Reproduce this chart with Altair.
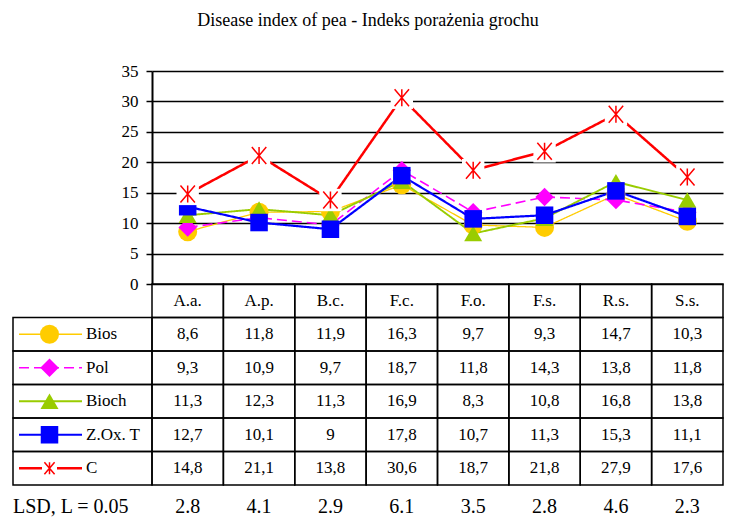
import altair as alt
import pandas as pd

# ---------------- data ----------------
title_text = "Disease index of pea - Indeks porażenia grochu"
categories = ["A.a.", "A.p.", "B.c.", "F.c.", "F.o.", "F.s.", "R.s.", "S.s."]
series_names = ["Bios", "Pol", "Bioch", "Z.Ox. T", "C"]
bios = [8.6, 11.8, 11.9, 16.3, 9.7, 9.3, 14.7, 10.3]
pol = [9.3, 10.9, 9.7, 18.7, 11.8, 14.3, 13.8, 11.8]
bioch = [11.3, 12.3, 11.3, 16.9, 8.3, 10.8, 16.8, 13.8]
zox = [12.7, 10.1, 9.0, 17.8, 10.7, 11.3, 15.3, 11.1]
control = [14.8, 21.1, 13.8, 30.6, 18.7, 21.8, 27.9, 17.6]
lsd = [2.8, 4.1, 2.9, 6.1, 3.5, 2.8, 4.6, 2.3]
lsd_label = "LSD, L = 0.05"
y_ticks = [0, 5, 10, 15, 20, 25, 30, 35]

# ---------------- styles ----------------
colors = ["#FFCC00", "#FF00FF", "#99CC00", "#0000FF", "#FF0000"]
STAR = "M-0.85,-1L0.85,1M-0.85,1L0.85,-1M0,-1L0,1"
shapes = ["circle", "diamond", "triangle-up", "square", STAR]
dashes = [[1, 0], [10, 5], [1, 0], [1, 0], [1, 0]]
widths = [1.3, 2.5, 1.3, 1.3, 1.3]
plot_sizes = [361, 289, 300, 256, 289]
legend_sizes = [144, 144, 150, 144, 144]
FONT = "Liberation Serif"

all_values = [bios, pol, bioch, zox, control]
rows = ["header"] + series_names + ["LSD"]

W = 571
PH = 213
ROW = 33.5
TH = ROW * len(rows)
LW = 139


def fmt_comma(v):
    return f"{v:g}".replace(".", ",")


long_recs = []
for s, vals in zip(series_names, all_values):
    for c, v in zip(categories, vals):
        long_recs.append({"series": s, "cat": c, "value": v, "row": s, "label": fmt_comma(v)})
df = pd.DataFrame(long_recs)

color_enc = alt.Color("series:N", scale=alt.Scale(domain=series_names, range=colors), legend=None)
dash_enc = alt.StrokeDash("series:N", scale=alt.Scale(domain=series_names, range=dashes), legend=None)
width_enc = alt.StrokeWidth("series:N", scale=alt.Scale(domain=series_names, range=widths), legend=None)
shape_enc = alt.Shape("series:N", scale=alt.Scale(domain=series_names, range=shapes), legend=None)

# ---------------- line plot ----------------
xp = alt.X("cat:N", sort=categories, scale=alt.Scale(type="point", padding=0.5), axis=None)
yp = alt.Y(
    "value:Q",
    scale=alt.Scale(domain=[0, 35], nice=False),
    axis=alt.Axis(
        values=y_ticks, grid=True, gridColor="black", gridWidth=1.5, gridOpacity=1,
        domainColor="black", domainWidth=2, tickColor="black", tickWidth=1.5, tickSize=6,
        labelFont=FONT, labelFontSize=17, labelColor="black", labelPadding=8, title=None,
    ),
)

base = alt.Chart(df)
lines = base.mark_line().encode(x=xp, y=yp, color=color_enc, strokeDash=dash_enc, strokeWidth=width_enc)
pts = base.transform_filter(alt.datum.series != "C").mark_point(filled=True, opacity=1).encode(
    x=xp, y=yp, color=color_enc, shape=shape_enc,
    size=alt.Size("series:N", scale=alt.Scale(domain=series_names, range=plot_sizes), legend=None),
)
c_box = base.transform_filter(alt.datum.series == "C").mark_point(
    shape="square", filled=True, color="white", opacity=1, size=500
).encode(x=xp, y=yp)
c_star = base.transform_filter(alt.datum.series == "C").mark_point(
    shape=STAR, filled=False, color="#FF0000", strokeWidth=1.5, opacity=1, size=289
).encode(x=xp, y=yp)

plot = alt.layer(lines, pts, c_box, c_star).properties(width=W, height=PH)

spacer = alt.Chart(pd.DataFrame({"v": [0]})).mark_point(opacity=0).properties(width=LW, height=PH)

# ---------------- data table ----------------
xt = alt.X("cat:N", sort=categories, scale=alt.Scale(type="band", paddingInner=0, paddingOuter=0), axis=None)
yt = alt.Y("row:N", sort=rows, scale=alt.Scale(domain=rows, paddingInner=0, paddingOuter=0), axis=None)

cell_recs = [{"cat": c, "row": r} for r in ["header"] + series_names for c in categories]
cells_df = pd.DataFrame(cell_recs)
head_df = pd.DataFrame({"cat": categories, "row": ["header"] * len(categories), "label": categories})
lsd_df = pd.DataFrame({"cat": categories, "row": ["LSD"] * len(categories), "label": [f"{v:g}" for v in lsd]})

cells = alt.Chart(cells_df).mark_rect(fillOpacity=0, stroke="black", strokeWidth=1.5).encode(x=xt, y=yt)
head_text = alt.Chart(head_df).mark_text(font=FONT, fontSize=17, color="black").encode(x=xt, y=yt, text="label:N")
val_text = base.mark_text(font=FONT, fontSize=17, color="black").encode(x=xt, y=yt, text="label:N")
lsd_text = alt.Chart(lsd_df).mark_text(font=FONT, fontSize=20, color="black", dy=5).encode(x=xt, y=yt, text="label:N")
table = alt.layer(cells, head_text, val_text, lsd_text).properties(width=W, height=TH)

# ---------------- legend column ----------------
leg_df = pd.DataFrame({"series": series_names, "row": series_names})
lsd_lab_df = pd.DataFrame({"row": ["LSD"], "label": [lsd_label]})
yl = alt.Y("row:N", sort=rows, scale=alt.Scale(domain=rows, paddingInner=0, paddingOuter=0), axis=None, bandPosition=0.5)
ylr = alt.Y("row:N", sort=rows, scale=alt.Scale(domain=rows, paddingInner=0, paddingOuter=0), axis=None)

lbase = alt.Chart(leg_df)
l_cells = lbase.mark_rect(fillOpacity=0, stroke="black", strokeWidth=1.5).encode(y=ylr)
l_rules = lbase.mark_rule().encode(
    x=alt.value(6), x2=alt.value(69), y=yl, color=color_enc, strokeDash=dash_enc, strokeWidth=width_enc
)
l_pts = lbase.transform_filter(alt.datum.series != "C").mark_point(filled=True, opacity=1).encode(
    x=alt.value(36.5), y=yl, color=color_enc, shape=shape_enc,
    size=alt.Size("series:N", scale=alt.Scale(domain=series_names, range=legend_sizes), legend=None),
)
l_box = lbase.transform_filter(alt.datum.series == "C").mark_point(
    shape="square", filled=True, color="white", opacity=1, size=225
).encode(x=alt.value(36.5), y=yl)
l_star = lbase.transform_filter(alt.datum.series == "C").mark_point(
    shape=STAR, filled=False, color="#FF0000", strokeWidth=1.5, opacity=1, size=144
).encode(x=alt.value(36.5), y=yl)
l_text = lbase.mark_text(font=FONT, fontSize=17, color="black", align="left").encode(
    x=alt.value(73), y=yl, text="series:N"
)
l_lsd = alt.Chart(lsd_lab_df).mark_text(font=FONT, fontSize=20, color="black", align="left", dy=5).encode(
    x=alt.value(0), y=yl, text="label:N"
)
legend_col = alt.layer(l_cells, l_rules, l_pts, l_box, l_star, l_text, l_lsd).properties(width=LW, height=TH)

# ---------------- assemble ----------------
chart = alt.concat(spacer, plot, legend_col, table, columns=2, spacing=0, bounds="flush").properties(
    title=alt.TitleParams(
        title_text, anchor="middle", font=FONT, fontSize=18, fontWeight="normal", color="black", offset=32
    ),
    padding={"left": 4, "top": 4, "right": 0, "bottom": 0},
).configure_view(stroke=None)

chart.save("out.html", embed_options={"renderer": "svg", "actions": False})
